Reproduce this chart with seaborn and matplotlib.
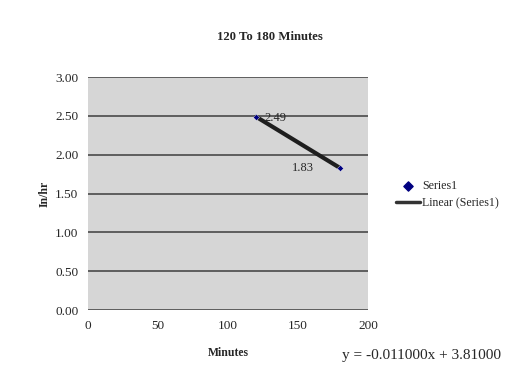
import numpy as np
import pandas as pd
import matplotlib
matplotlib.use('Agg')
import matplotlib.pyplot as plt
import seaborn as sns

# data
minutes = [120, 180]
rate = [2.49, 1.83]
point_labels = ['2.49', '1.83']
y_ticks = [0.0, 0.5, 1.0, 1.5, 2.0, 2.5, 3.0]
x_ticks = [0, 50, 100, 150, 200]

df = pd.DataFrame({'Minutes': minutes, 'In/hr': rate})

# linear trend
slope, intercept = np.polyfit(minutes, rate, 1)
trend = pd.DataFrame({'Minutes': minutes})
trend['In/hr'] = slope * trend['Minutes'] + intercept

sns.set_style('white')
plt.rcParams['font.family'] = ['Liberation Serif', 'DejaVu Serif']

fig = plt.figure(figsize=(5.07, 3.71), dpi=100)
ax = fig.add_axes([0.174, 0.164, 0.552, 0.628])
ax.set_facecolor('#d6d6d6')

for t in y_ticks:
    ax.axhline(t, color='#555555', lw=1.3, zorder=1)

sns.lineplot(data=trend, x='Minutes', y='In/hr', color='#1e1e1e', lw=3, ax=ax,
             zorder=3, legend=False)
sns.scatterplot(data=df, x='Minutes', y='In/hr', marker='D', color='#000080', s=10,
                ax=ax, zorder=4, legend=False)

ax.text(minutes[0] + 6, rate[0] - 0.01, point_labels[0], fontsize=9, va='center', ha='left')
ax.text(minutes[1] - 19, rate[1], point_labels[1], fontsize=9, va='center', ha='right')

ax.set_xlim(0, 200)
ax.set_ylim(0, 3)
ax.set_xticks(x_ticks)
ax.set_yticks(y_ticks)
ax.set_yticklabels([f'{t:.2f}' for t in y_ticks])
ax.tick_params(labelsize=9.5, length=0, pad=7)
for s in ax.spines.values():
    s.set_visible(False)
ax.set_xlabel('Minutes', fontsize=8.5, fontweight='bold', labelpad=11)
ax.set_ylabel('In/hr', fontsize=8.5, fontweight='bold', labelpad=3)

fig.text(0.532, 0.90, '120 To 180 Minutes', fontsize=9.2, fontweight='bold', ha='center', va='center')

# legend
ax.scatter([], [], marker='D', color='#000080', s=22, label='Series1')
ax.plot([], [], color='#333333', lw=2.5, label='Linear (Series1)')
fig.legend(loc='center left', bbox_to_anchor=(0.765, 0.475), frameon=False, fontsize=8.6,
           handlelength=2.0, handletextpad=0.2, labelspacing=0.45, borderpad=0.2)

fig.text(0.675, 0.025, f'y = {slope:.6f}x + {intercept:.5f}', fontsize=11, ha='left', va='bottom')

fig.savefig('out.png', dpi=100)
